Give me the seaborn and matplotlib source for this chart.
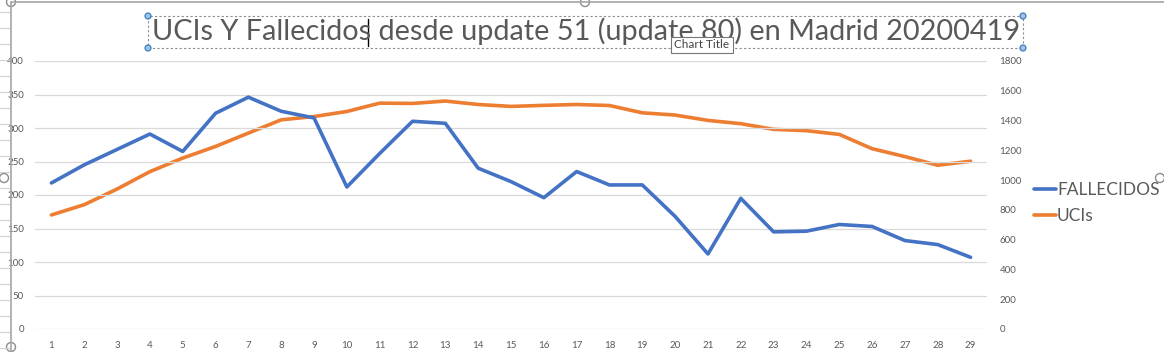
import matplotlib
matplotlib.use("Agg")
import matplotlib.pyplot as plt
import seaborn as sns
import pandas as pd
from matplotlib.lines import Line2D
from matplotlib.patches import Rectangle, Ellipse

# ----------------------------------------------------------
# data
# ----------------------------------------------------------
dias = list(range(1, 30))
fallecidos = [218, 245, 268, 291, 265, 322, 346, 325, 315, 212,
              262, 310, 307, 240, 220, 196, 235, 215, 215, 168,
              112, 195, 145, 146, 156, 153, 132, 126, 107]
ucis = [766, 835, 940, 1057, 1148, 1226, 1316, 1405, 1427, 1461,
        1517, 1515, 1531, 1508, 1495, 1502, 1508, 1501, 1452, 1437,
        1401, 1379, 1341, 1332, 1307, 1211, 1158, 1100, 1127]
titulo = "UCIs Y Fallecidos desde update 51 (update 80) en Madrid 20200419"

# ----------------------------------------------------------
# style
# ----------------------------------------------------------
sns.set_theme(style="white")
plt.rcParams['font.family'] = ['Lato', 'DejaVu Sans']
gris = '#595959'
azul = '#4472C4'
naranja = '#ED7D31'
W, H = 1164, 352

fig = plt.figure(figsize=(W / 100, H / 100), dpi=100)
ax = fig.add_axes([35 / W, 1 - 329 / H, 952 / W, 268 / H])
ax2 = ax.twinx()

df = pd.DataFrame({'dia': dias, 'FALLECIDOS': fallecidos, 'UCIs': ucis})
sns.lineplot(data=df, x='dia', y='FALLECIDOS', ax=ax, color=azul, lw=2.6, legend=False)
sns.lineplot(data=df, x='dia', y='UCIs', ax=ax2, color=naranja, lw=2.6, legend=False)

ax.set_xlim(0.5, 29.5)
ax.set_ylim(0, 400)
ax2.set_ylim(0, 1800)
ax.set_yticks(range(0, 401, 50))
ax2.set_yticks(range(0, 1801, 200))
ax.set_xticks(dias)
ax.set_xlabel('')
ax.set_ylabel('')
ax2.set_ylabel('')
ax.grid(axis='y', color='#D9D9D9', lw=0.9)
ax.set_axisbelow(True)
for a in (ax, ax2):
    for s in a.spines.values():
        s.set_visible(False)
ax.tick_params(axis='both', length=0, labelsize=7, colors=gris)
ax.tick_params(axis='y', pad=8)
ax.tick_params(axis='x', pad=9)
ax2.tick_params(axis='y', length=0, labelsize=7, colors=gris, pad=9)
ax2.set_zorder(ax.get_zorder() - 1)
ax.patch.set_visible(False)

# legend
handles = [Line2D([], [], color=azul, lw=2.6), Line2D([], [], color=naranja, lw=2.6)]
fig.legend(handles, ['FALLECIDOS', 'UCIs'], loc='upper left',
           bbox_to_anchor=(1018 / W, 1 - 166 / H), frameon=False,
           fontsize=12.5, labelcolor=gris, handlelength=1.3, handletextpad=0.05,
           labelspacing=0.6)

# title and its selection box
fig.text(586 / W, 1 - 31 / H, titulo, ha='center', va='center', fontsize=20.8, color=gris)
fig.patches.append(Rectangle((148 / W, 1 - 48 / H), 875 / W, 32 / H, transform=fig.transFigure,
                             fill=False, ec='#8C8C8C', lw=0.8, ls=(0, (2, 2))))
for px, py in [(148, 16), (148, 48), (1023, 16), (1023, 48)]:
    fig.patches.append(Ellipse((px / W, 1 - py / H), 6 / W, 6 / H, transform=fig.transFigure,
                               fc='#9DC3E6', ec='#2E75B6', lw=0.8))
# text cursor right after "Fallecidos"
fig.lines.append(Line2D([368 / W, 368 / W], [1 - 19 / H, 1 - 46 / H], transform=fig.transFigure,
                        color='black', lw=1))
fig.text(702 / W, 1 - 45 / H, 'Chart Title', ha='center', va='center', fontsize=8.5,
         color='#444444', bbox=dict(boxstyle='square,pad=0.25', fc='white', ec='#767676', lw=0.8))

# chart frame
fig.lines.append(Line2D([11 / W, 1], [1 - 1.5 / H, 1 - 1.5 / H], transform=fig.transFigure,
                        color='#A6A6A6', lw=1.2))
fig.lines.append(Line2D([11 / W, 11 / W], [0, 1 - 1.5 / H], transform=fig.transFigure,
                        color='#A6A6A6', lw=1.2))
for py in range(12, 352, 16):
    fig.lines.append(Line2D([0, 9 / W], [1 - py / H, 1 - py / H], transform=fig.transFigure,
                            color='#D0D0D0', lw=0.8))
for px, py in [(11, 2), (585, 2), (4, 178), (1160, 178), (11, 347)]:
    fig.patches.append(Ellipse((px / W, 1 - py / H), 9 / W, 9 / H, transform=fig.transFigure,
                               fc='white', ec='#8C8C8C', lw=1))

fig.savefig('out.png', dpi=100)
